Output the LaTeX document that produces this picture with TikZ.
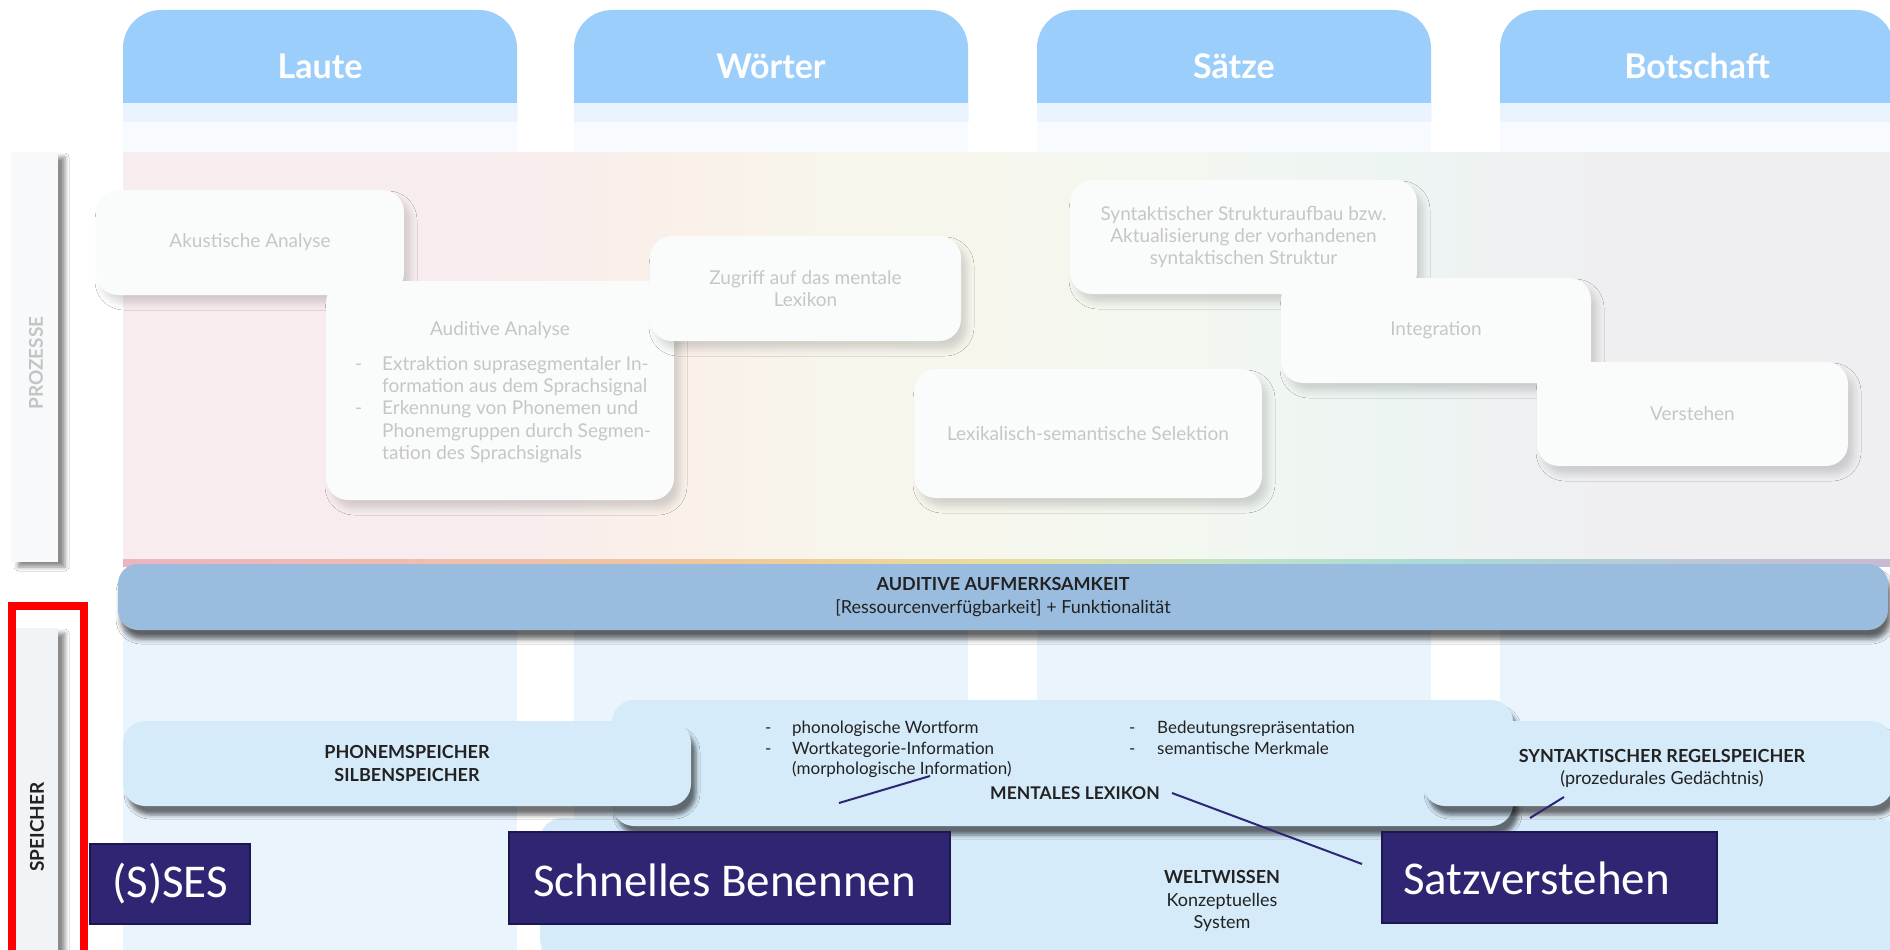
\documentclass[tikz,border=0pt]{standalone}
\usepackage{fontspec}
\setmainfont{Lato}
\newfontfamily\calibfont{Carlito}
\usepackage{tikz}
\usetikzlibrary{shadows.blur}

\definecolor{headblue}{HTML}{9BCEFA}
\definecolor{bandA}{HTML}{E9F4FE}
\definecolor{bandB}{HTML}{F7FAFE}
\definecolor{colbg}{HTML}{EAF4FD}
\definecolor{procfill}{HTML}{FAFBFB}
\definecolor{proctext}{HTML}{C6C6C6}
\definecolor{attblue}{HTML}{9ABCDF}
\definecolor{spfill}{HTML}{D6EBF9}
\definecolor{darktext}{HTML}{222222}
\definecolor{tagfill}{HTML}{2E2673}
\definecolor{tagedge}{HTML}{1C1750}
\definecolor{barA}{HTML}{F8F9FA}
\definecolor{barB}{HTML}{F1F4F7}
\definecolor{sidegrey}{HTML}{C4C4C4}
\definecolor{pgA}{HTML}{F7ECEE}
\definecolor{pgB}{HTML}{F9F0EA}
\definecolor{pgC}{HTML}{F8F6EC}
\definecolor{pgD}{HTML}{F3F7EF}
\definecolor{pgE}{HTML}{EDF5F3}
\definecolor{pgF}{HTML}{EFEEF1}
\definecolor{rbA}{HTML}{EBB5C0}
\definecolor{rbB}{HTML}{F2C79A}
\definecolor{rbC}{HTML}{E8DD9E}
\definecolor{rbD}{HTML}{C4E2C4}
\definecolor{rbE}{HTML}{A9DAD9}
\definecolor{rbF}{HTML}{C8B9D2}

\pgfdeclarehorizontalshading{procgrad}{100bp}{color(0bp)=(pgA); color(35bp)=(pgA); color(40bp)=(pgB); color(46bp)=(pgC); color(54bp)=(pgD); color(61bp)=(pgE); color(68bp)=(pgF); color(100bp)=(pgF)}
\pgfdeclarehorizontalshading{stripgrad}{100bp}{color(0bp)=(rbA); color(25bp)=(rbA); color(42bp)=(rbB); color(50bp)=(rbC); color(56bp)=(rbD); color(62bp)=(rbE); color(75bp)=(rbF); color(100bp)=(rbF)}

\begin{document}
\begin{tikzpicture}[x=1pt,y=-1pt,
  headtext/.style={text=white,font=\bfseries\fontsize{34}{40}\selectfont},
  procbox/.style={fill=procfill,rounded corners=22pt,text=proctext,align=center,font=\fontsize{19}{22}\selectfont,
    blur shadow={shadow xshift=6pt,shadow yshift=-8pt,shadow blur radius=7pt,shadow opacity=15}},
  proctxt/.style={text=proctext,align=center,font=\fontsize{19}{22.3}\selectfont},
  sidebar/.style={blur shadow={shadow xshift=7pt,shadow yshift=-5pt,shadow blur radius=4pt,shadow opacity=45}},
  sidetext/.style={rotate=90,font=\bfseries\fontsize{19}{22}\selectfont},
  spbox/.style={fill=spfill,rounded corners=22pt,
    blur shadow={shadow xshift=5pt,shadow yshift=-9pt,shadow blur radius=4pt,shadow opacity=55}},
  sptext/.style={text=darktext,align=center,font=\fontsize{18}{22.5}\selectfont},
  listtext/.style={anchor=north west,inner sep=0pt,text=darktext,font=\fontsize{17}{20.5}\selectfont},
  navyline/.style={draw=tagfill,line width=2pt},
  tagbox/.style={fill=tagfill,draw=tagedge,line width=1.5pt,inner sep=0pt},
  tagtext/.style={anchor=west,inner sep=0pt,text=white,font=\calibfont\fontsize{47}{56}\selectfont}]
\useasboundingbox (0,0) rectangle (1890,950);
\clip (0,0) rectangle (1890,950);
\fill[white] (0,0) rectangle (1890,950);

\foreach \x/\name/\id in {123/Laute/laute,574/Wörter/woerter,1037/Sätze/saetze,1500/Botschaft/botschaft}{
  \fill[headblue,rounded corners=38pt] (\x,10) rectangle (\x+394,160);
  \fill[bandA] (\x,103) rectangle (\x+394,122);
  \fill[bandB] (\x,122) rectangle (\x+394,152);
  \fill[colbg] (\x,630) rectangle (\x+394,950);
  \node[headtext] (\id) at (\x+197,66) {\name};
}

\fill[shading=procgrad] (123,152) rectangle (1890,562);
\fill[shading=stripgrad] (123,559) rectangle (1890,566);

\node[procbox,minimum width=308pt,minimum height=105pt] (akustik) at (250,242.5) {Akustische Analyse};
\node[procbox,minimum width=348pt,minimum height=219pt] (auditiv) at (500,390.5) {};
\node[proctxt] (auditivtitel) at (500,330) {Auditive Analyse};
\node[proctxt,anchor=north west,inner sep=0pt,align=left] (auditivliste) at (355,354.4) {\begin{tabular}{@{}p{27pt}@{}l@{}}
- & Extraktion suprasegmentaler In-\\
 & formation aus dem Sprachsignal\\
- & Erkennung von Phonemen und\\
 & Phonemgruppen durch Segmen-\\
 & tation des Sprachsignals
\end{tabular}};
\node[procbox,minimum width=311pt,minimum height=105pt] (zugriff) at (805.5,288.5) {Zugriff auf das mentale\\Lexikon};
\node[procbox,minimum width=348pt,minimum height=129pt] (selektion) at (1088,433.5) {Lexikalisch-semantische Selektion};
\node[procbox,minimum width=347pt,minimum height=114pt] (struktur) at (1243.5,237) {Syntaktischer Strukturaufbau bzw.\\Aktualisierung der vorhandenen\\syntaktischen Struktur};
\node[procbox,minimum width=310pt,minimum height=105pt] (integration) at (1436,330.5) {Integration};
\node[procbox,minimum width=311pt,minimum height=104pt] (verstehen) at (1692.5,414) {Verstehen};

\fill[barA,sidebar] (11,152) rectangle (58,562);
\node[sidetext,text=sidegrey] (prozesse) at (36,363) {PROZESSE};
\fill[barB,sidebar] (16,628) rectangle (58,960);
\node[sidetext,text=darktext] (speicher) at (37,827) {SPEICHER};

\node[fill=attblue,rounded corners=20pt,minimum width=1770pt,minimum height=66pt,
  blur shadow={shadow xshift=3pt,shadow yshift=-9pt,shadow blur radius=5pt,shadow opacity=60},
  sptext] (aufmerksamkeit) at (1003,597) {\textbf{AUDITIVE AUFMERKSAMKEIT}\\{[}Ressourcenverfügbarkeit{]} + Funktionalität};

\node[spbox,minimum width=1360pt,minimum height=142pt] (weltbox) at (1220,889) {};
\node[sptext] (weltwissen) at (1222,901) {\textbf{WELTWISSEN}\\Konzeptuelles\\System};
\node[spbox,minimum width=901pt,minimum height=126pt] (lexbox) at (1062.5,763) {};
\node[listtext] (lexlinks) at (765,719) {\begin{tabular}{@{}p{27pt}@{}l@{}}
- & phonologische Wortform\\
- & Wortkategorie-Information\\
 & (morphologische Information)
\end{tabular}};
\node[listtext] (lexrechts) at (1129,719) {\begin{tabular}{@{}p{28pt}@{}l@{}}
- & Bedeutungsrepräsentation\\
- & semantische Merkmale
\end{tabular}};
\node[sptext,font=\bfseries\fontsize{17.5}{21}\selectfont] (lexikon) at (1075,793) {MENTALES LEXIKON};
\node[spbox,sptext,minimum width=568pt,minimum height=85pt,font=\bfseries\fontsize{18}{23}\selectfont] (phonem) at (407,763.5) {PHONEMSPEICHER\\SILBENSPEICHER};
\node[spbox,minimum width=470pt,minimum height=85pt] (syntaxbox) at (1658,763.5) {};
\node[sptext,font=\fontsize{18}{22}\selectfont] (regelspeicher) at (1662,768) {\textbf{SYNTAKTISCHER REGELSPEICHER}\\(prozedurales Gedächtnis)};

\coordinate (infotip) at (930,776);
\coordinate (benenntip) at (839,803);
\coordinate (lextip) at (1172,793);
\coordinate (satztipA) at (1362,864);
\coordinate (regeltip) at (1564,797);
\coordinate (satztipB) at (1530,818);
\draw[navyline] (infotip) -- (benenntip);
\draw[navyline] (lextip) -- (satztipA);
\draw[navyline] (regeltip) -- (satztipB);

\node[tagbox,minimum width=160pt,minimum height=80pt] (sses) at (170,884) {};
\node[tagtext] (ssestext) at (112,884) {(S)SES};
\node[tagbox,minimum width=441pt,minimum height=92pt] (benennen) at (729.5,878) {};
\node[tagtext] (benennentext) at (533,880) {Schnelles Benennen};
\node[tagbox,minimum width=335pt,minimum height=91pt] (satz) at (1549.5,877.5) {};
\node[tagtext] (satztext) at (1403,878) {Satzverstehen};

\draw[red,line width=8pt] (11.5,606) rectangle (83.5,975);
\end{tikzpicture}
\end{document}
